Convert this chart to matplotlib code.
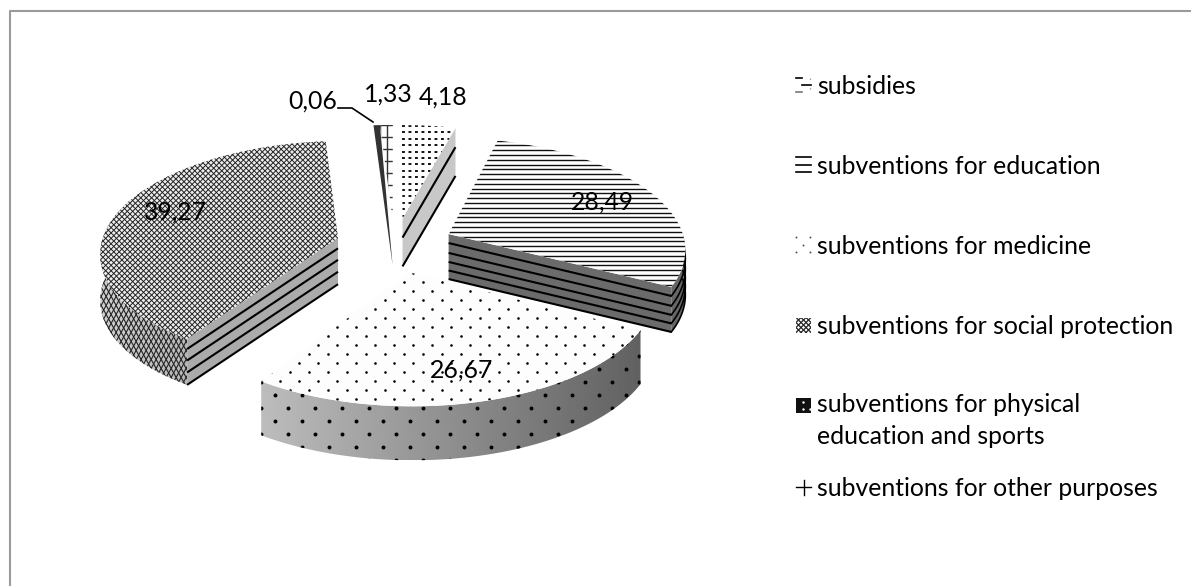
import numpy as np
import matplotlib
matplotlib.use("Agg")
import matplotlib.pyplot as plt
from matplotlib.patches import Polygon, Rectangle
from matplotlib.collections import LineCollection

plt.rcParams['font.family'] = ['Lato', 'DejaVu Sans']

categories = ['subsidies', 'subventions for education', 'subventions for medicine',
              'subventions for social protection', 'subventions for physical\neducation and sports',
              'subventions for other purposes']
values = [4.18, 28.49, 26.67, 39.27, 0.06, 1.33]
value_labels = ['4,18', '28,49', '26,67', '39,27', '0,06', '1,33']

# layout of the fake 3d pie, in pixels
CX, CY = 395, 245
RX, RY = 237, 110.5
PERSP = 0.12
EXPLODE = 0.25
depths = [48, 45, 54, 46, 47, 47]


def project(u, v, z=0.0):
    s = 1 / (1 - PERSP * v)
    return np.column_stack([CX + RX * u * s, CY + RY * v * s + z])


def slice_points(theta, mid, z=0.0, r=1.0):
    # theta clockwise from the top of the pie, degrees
    t = np.radians(theta)
    m = np.radians(mid)
    u = EXPLODE * np.sin(m) + r * np.sin(t)
    v = -EXPLODE * np.cos(m) - r * np.cos(t)
    return project(u, v, z)


def clip_lines(ax, segs, poly, color='k', lw=1.0, zorder=3):
    lc = LineCollection(segs, colors=color, linewidths=lw, zorder=zorder, capstyle='butt')
    ax.add_collection(lc)
    lc.set_clip_path(poly)
    return lc


def hlines(ax, poly, step, color='k', lw=1.0, zorder=3):
    xy = poly.get_xy()
    ys = np.arange(xy[:, 1].min(), xy[:, 1].max(), step)
    segs = [[(xy[:, 0].min(), y), (xy[:, 0].max(), y)] for y in ys]
    return clip_lines(ax, segs, poly, color, lw, zorder)


def vlines(ax, poly, step, color='k', lw=1.0, zorder=3):
    xy = poly.get_xy()
    xs = np.arange(xy[:, 0].min(), xy[:, 0].max(), step)
    segs = [[(x, xy[:, 1].min()), (x, xy[:, 1].max())] for x in xs]
    return clip_lines(ax, segs, poly, color, lw, zorder)


def cross(ax, poly, step, color='k', lw=0.9, zorder=3, slope=1.0):
    xy = poly.get_xy()
    x0, x1 = xy[:, 0].min(), xy[:, 0].max()
    y0, y1 = xy[:, 1].min(), xy[:, 1].max()
    w = x1 - x0
    segs = []
    for c in np.arange(y0 - slope * w, y1 + slope * w, step):
        segs.append([(x0, c), (x1, c + slope * w)])
        segs.append([(x0, c + slope * w), (x1, c)])
    return clip_lines(ax, segs, poly, color, lw, zorder)


def dots(ax, poly, dx, dy, size=3.0, zorder=3):
    xy = poly.get_xy()
    ys = np.arange(xy[:, 1].min(), xy[:, 1].max(), dy)
    xs, yy = [], []
    for i, y in enumerate(ys):
        row = np.arange(xy[:, 0].min() + (dx / 2 if i % 2 else 0), xy[:, 0].max(), dx)
        xs.extend(row)
        yy.extend([y] * len(row))
    sc = ax.scatter(xs, yy, s=size, c='k', linewidths=0, zorder=zorder)
    sc.set_clip_path(poly)


def gradient(ax, poly, c0, c1, zorder=2):
    xy = poly.get_xy()
    g = np.linspace(c0, c1, 256).reshape(1, -1)
    im = ax.imshow(g, cmap='gray', vmin=0, vmax=1, aspect='auto', zorder=zorder,
                   extent=[xy[:, 0].min(), xy[:, 0].max(), xy[:, 1].max(), xy[:, 1].min()])
    im.set_clip_path(poly)


fig = plt.figure(figsize=(11.91, 5.86), dpi=100)
ax = fig.add_axes([0, 0, 1, 1])
ax.set_xlim(0, 1191)
ax.set_ylim(586, 0)
ax.axis('off')

# only the top and left edges of the chart frame are left in the picture
ax.plot([9.5, 9.5, 1191], [586, 10.5, 10.5], color='#9a9a9a', lw=1.5, zorder=0)

# slice angles straight from the values
cum = np.cumsum([0] + values) / sum(values) * 360
starts, ends = cum[:-1], cum[1:]
mids = (starts + ends) / 2


def top_poly(i, a=None, b=None, z=0.0):
    a = starts[i] if a is None else a
    b = ends[i] if b is None else b
    th = np.linspace(a, b, 60)
    arc = slice_points(th, mids[i], z)
    apex = slice_points(np.array([a]), mids[i], z, r=0.0)
    return np.vstack([apex, arc])


def radial_wall(i, theta):
    d = depths[i]
    t = np.array([theta])
    return np.vstack([slice_points(t, mids[i], 0, 0.0), slice_points(t, mids[i], 0),
                      slice_points(t, mids[i], d), slice_points(t, mids[i], d, 0.0)])


def wall_lines(ax, i, theta, fracs, lw=1.5, zorder=4):
    d = depths[i]
    t = np.array([theta])
    segs = []
    for f in fracs:
        p0 = slice_points(t, mids[i], d * f, 0.0)[0]
        p1 = slice_points(t, mids[i], d * f)[0]
        segs.append([p0, p1])
    ax.add_collection(LineCollection(segs, colors='k', linewidths=lw, zorder=zorder, capstyle='butt'))


def outer_wall(i, a, b):
    th = np.linspace(a, b, 60)
    return np.vstack([slice_points(th, mids[i], 0), slice_points(th[::-1], mids[i], depths[i])])


# 39,27 - social protection
i = 3
wall = Polygon(outer_wall(i, starts[i], 292), fc='none', ec='none', zorder=2)
ax.add_patch(wall)
gradient(ax, wall, 0.82, 0.72)
cross(ax, wall, 9, lw=0.8, color='#222222', slope=1.8, zorder=3)
wall2 = Polygon(radial_wall(i, starts[i]), fc='#ababab', ec='none', zorder=3)
ax.add_patch(wall2)
wall_lines(ax, i, starts[i], [0.22, 0.47, 0.73, 1.0])
top = Polygon(top_poly(i), fc='#ececec', ec='none', zorder=5)
ax.add_patch(top)
cross(ax, top, 5.4, lw=0.68, color='#1a1a1a', zorder=6)

# sliver 0,06 and 1,33
i = 5
split = 356.4
top = Polygon(top_poly(i, split, ends[i]), fc='white', ec='none', zorder=5)
ax.add_patch(top)
hlines(ax, top, 12, color='#333333', lw=1.0, zorder=6)
vlines(ax, top, 7, color='#333333', lw=1.0, zorder=6)
a0 = slice_points(np.array([starts[i] - 0.6]), mids[i])[0]
a1 = slice_points(np.array([split]), mids[i])[0]
bot = slice_points(np.array([split]), mids[i], depths[i], 0.0)[0]
ax.add_patch(Polygon([a0, a1, bot], fc='#333333', ec='none', zorder=7))

# 4,18 - subsidies
i = 0
wall = Polygon(radial_wall(i, ends[i]), fc='#c8c8c8', ec='none', zorder=3)
ax.add_patch(wall)
wall_lines(ax, i, ends[i], [0.4, 1.0])
top = Polygon(top_poly(i), fc='white', ec='none', zorder=5)
ax.add_patch(top)
xy = top.get_xy()
segs = [[(xy[:, 0].min(), y), (xy[:, 0].max(), y)] for y in np.arange(xy[:, 1].min() + 1, xy[:, 1].max(), 6.4)]
lc = LineCollection(segs, colors='k', linewidths=1.3, linestyles=[(0, (1.6, 2.0))], zorder=6)
ax.add_collection(lc)
lc.set_clip_path(top)

# 28,49 - education
i = 1
ax.add_patch(Polygon(outer_wall(i, 90, ends[i]), fc='#666666', ec='none', zorder=8))
ax.add_patch(Polygon(radial_wall(i, ends[i]), fc='#6b6b6b', ec='none', zorder=8))
d = depths[i]
th = np.linspace(90, ends[i], 30)
fracs = [0.2, 0.42, 0.62, 0.81, 1.0]
for f in fracs:
    ax.plot(*slice_points(th, mids[i], d * f).T, color='k', lw=1.2, zorder=9)
wall_lines(ax, i, ends[i], fracs, lw=1.5, zorder=9)
top = Polygon(top_poly(i), fc='white', ec='none', zorder=10)
ax.add_patch(top)
hlines(ax, top, 4.8, color='#111111', lw=1.0, zorder=11)

# 26,67 - medicine
i = 2
wall = Polygon(outer_wall(i, starts[i], ends[i]), fc='none', ec='none', zorder=2)
ax.add_patch(wall)
gradient(ax, wall, 0.74, 0.38)
dots(ax, wall, 27, 13, size=8, zorder=3)
top = Polygon(top_poly(i), fc='#fdfdfd', ec='none', zorder=3.5)
ax.add_patch(top)
dots(ax, top, 19, 9, size=3.5, zorder=3.6)

# data labels
label_xy = [(443, 97), (602, 202), (462, 370), (175, 212), (313, 101), (388, 94)]
for txt, (x, y) in zip(value_labels, label_xy):
    ax.text(x, y, txt, fontsize=17.8, ha='center', va='center', color='k', zorder=20)

# leader line for the smallest slice
ax.plot([338, 352, 373], [108, 108, 122], color='k', lw=1.2, zorder=20)

# legend
legend_y = [85, 165, 246, 325, 419.5, 487]
for cat, y in zip(categories, legend_y):
    ax.text(817, y + 1, cat, fontsize=17.8, ha='left', va='center', color='k', linespacing=1.44)

# legend keys, one small swatch per category
kx0, kx1 = 796, 811
ky = legend_y
ax.plot([kx0, 802], [ky[0] - 7.5] * 2, color='k', lw=1.2)
ax.plot([802, kx1], [ky[0]] * 2, color='k', lw=1.2)
ax.plot([kx0, 802], [ky[0] + 6.5] * 2, color='#777777', lw=1.2)
ax.plot([810, 810], [ky[0] - 7.5, ky[0] + 6.5], color='#999999', lw=1, ls=(0, (1, 6)))
for off in (-8, -0.5, 7):
    ax.plot([kx0, kx1], [ky[1] + off] * 2, color='k', lw=1.2)
ax.scatter([796, 810, 803, 796, 810], np.array([-9, -9, -1.5, 6, 6]) + ky[2], s=2, c='#555555', linewidths=0)
sw = Polygon([(kx0, ky[3] - 7.5), (kx1, ky[3] - 7.5), (kx1, ky[3] + 7.5), (kx0, ky[3] + 7.5)], fc='white', ec='none', zorder=1)
ax.add_patch(sw)
cross(ax, sw, 5, color='#222222', lw=0.9, zorder=2)
ax.add_patch(Rectangle((kx0, 398), 15, 15, fc='#111111', ec='none', zorder=1))
ax.scatter([803, 803, 810], [402, 409, 409], s=3, c='white', linewidths=0, zorder=2)
ax.plot([kx0, kx1], [ky[5], ky[5]], color='k', lw=1.0)
ax.plot([803.5, 803.5], [ky[5] - 7.5, ky[5] + 7.5], color='k', lw=1.0)

fig.savefig('out.png', dpi=100)
